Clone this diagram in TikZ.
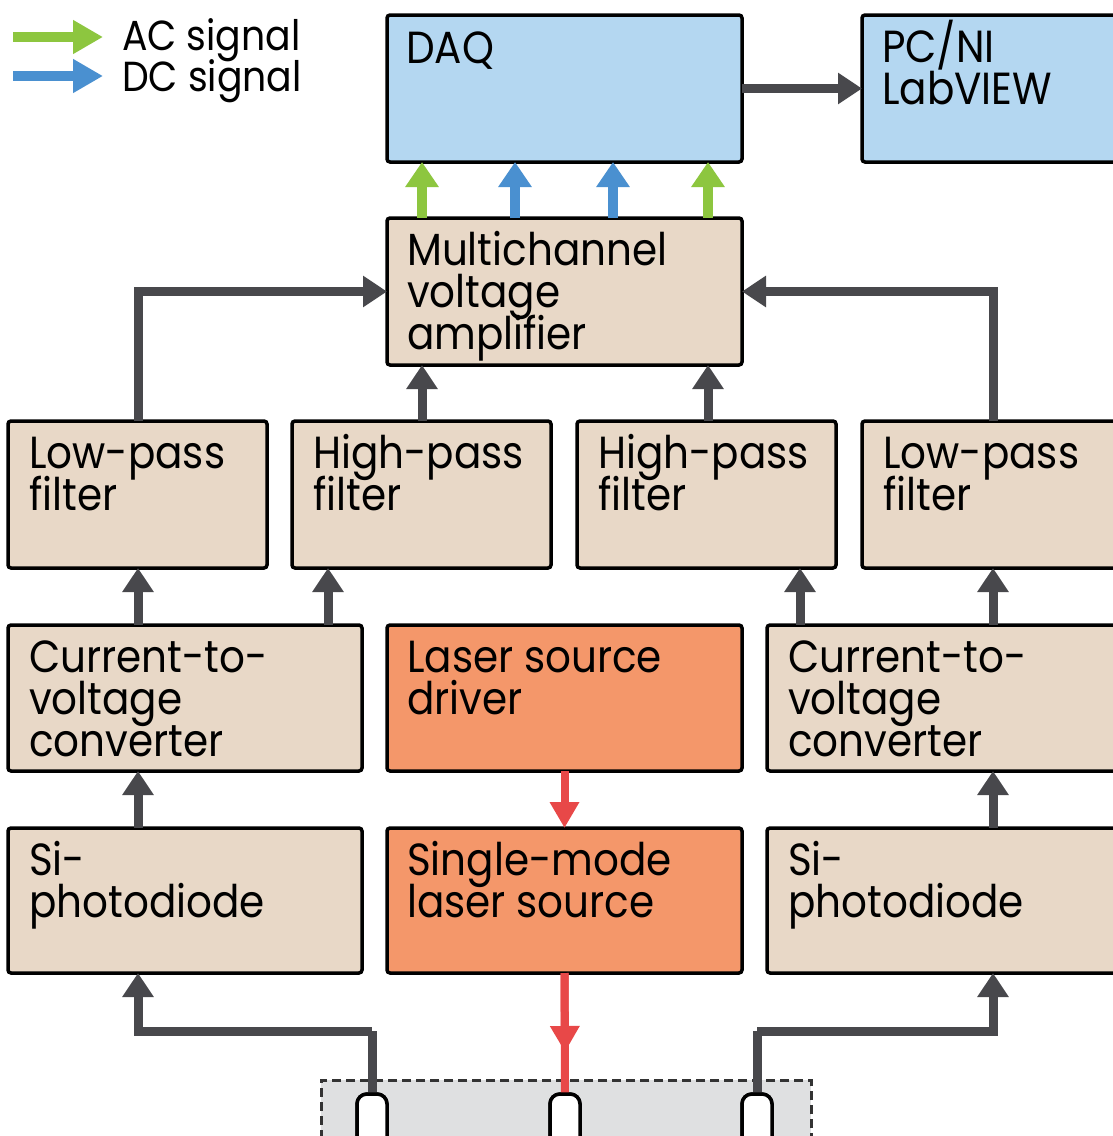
\documentclass[tikz,border=0pt]{standalone}
\usepackage{fontspec}
\setmainfont{Poppins}[FakeStretch=0.9]
\usetikzlibrary{arrows.meta}
\definecolor{beige}{RGB}{232,216,199}
\definecolor{lblue}{RGB}{180,215,241}
\definecolor{orng}{RGB}{244,151,106}
\definecolor{dgray}{RGB}{72,72,76}
\definecolor{agreen}{RGB}{141,198,63}
\definecolor{ablue}{RGB}{74,144,208}
\definecolor{ared}{RGB}{232,72,72}
\definecolor{boxgray}{RGB}{223,224,225}
\newcommand\one[1]{\vtop{\lineskiplimit=-200pt\hbox{#1}}}
\newcommand\two[2]{\vtop{\lineskiplimit=-200pt\hbox{#1}\hbox{#2}}}
\newcommand\three[3]{\vtop{\lineskiplimit=-200pt\hbox{#1}\hbox{#2}\hbox{#3}}}
\tikzset{
  blk/.style={draw=black, line width=3.5pt, rounded corners=3pt, anchor=north west,
    inner sep=0pt, outer sep=0pt},
  txt/.style={anchor=base west, inner sep=0pt, font=\fontsize{45}{42}\selectfont},
  legtxt/.style={anchor=base west, inner sep=0pt, font=\fontsize{42}{41}\selectfont},
  garrow/.style={draw=dgray, line width=9pt, -{Triangle[length=24pt,width=30pt]}},
  gline/.style={draw=dgray, line width=9pt},
  acarrow/.style={draw=agreen, line width=10pt, -{Triangle[length=25pt,width=32pt]}},
  dcarrow/.style={draw=ablue, line width=10pt, -{Triangle[length=25pt,width=32pt]}},
  rarrow/.style={draw=ared, line width=8pt, -{Triangle[length=26pt,width=28pt]}},
  rline/.style={draw=ared, line width=8pt},
  fconn/.style={draw=black, fill=white, line width=3.5pt, rounded corners=10pt,
    minimum width=30pt, minimum height=70pt, anchor=north, inner sep=0pt, outer sep=0pt},
}
\begin{document}
\begin{tikzpicture}[x=1pt,y=-1pt]
\clip (0,0) rectangle (1113,1136);
\fill[white] (0,0) rectangle (1113,1136);
% boxes
\node[blk, fill=lblue, minimum width=355pt, minimum height=147pt] (daq) at (387,15) {};
\node[blk, fill=lblue, minimum width=280pt, minimum height=147pt] (pc) at (862,15) {};
\node[blk, fill=beige, minimum width=355pt, minimum height=147pt] (mva) at (387,218) {};
\node[blk, fill=beige, minimum width=259pt, minimum height=147pt] (lp1) at (8,421) {};
\node[blk, fill=beige, minimum width=259pt, minimum height=147pt] (hp1) at (292,421) {};
\node[blk, fill=beige, minimum width=259pt, minimum height=147pt] (hp2) at (577,421) {};
\node[blk, fill=beige, minimum width=268pt, minimum height=147pt] (lp2) at (862,421) {};
\node[blk, fill=beige, minimum width=354pt, minimum height=146pt] (cvL) at (8,625) {};
\node[blk, fill=orng, minimum width=355pt, minimum height=146pt] (drv) at (387,625) {};
\node[blk, fill=beige, minimum width=363pt, minimum height=146pt] (cvR) at (767,625) {};
\node[blk, fill=beige, minimum width=354pt, minimum height=145pt] (pdL) at (8,828) {};
\node[blk, fill=orng, minimum width=355pt, minimum height=145pt] (slm) at (387,828) {};
\node[blk, fill=beige, minimum width=363pt, minimum height=145pt] (pdR) at (767,828) {};
% texts
\node[txt] (daqT) at ([xshift=19pt,yshift=-48pt]daq.north west) {\one{DAQ}};
\node[txt] (pcT) at ([xshift=20pt,yshift=-47pt]pc.north west) {\two{PC/NI}{LabVIEW}};
\node[txt] (mvaT) at ([xshift=20pt,yshift=-47pt]mva.north west) {\three{Multichannel}{voltage}{amplifier}};
\node[txt] (lp1T) at ([xshift=21pt,yshift=-47pt]lp1.north west) {\two{Low-pass}{filter}};
\node[txt] (hp1T) at ([xshift=21pt,yshift=-47pt]hp1.north west) {\two{High-pass}{filter}};
\node[txt] (hp2T) at ([xshift=21pt,yshift=-47pt]hp2.north west) {\two{High-pass}{filter}};
\node[txt] (lp2T) at ([xshift=21pt,yshift=-47pt]lp2.north west) {\two{Low-pass}{filter}};
\node[txt] (cvLT) at ([xshift=21pt,yshift=-47pt]cvL.north west) {\three{Current-to-}{voltage}{converter}};
\node[txt] (drvT) at ([xshift=20pt,yshift=-47pt]drv.north west) {\two{Laser source}{driver}};
\node[txt] (cvRT) at ([xshift=21pt,yshift=-47pt]cvR.north west) {\three{Current-to-}{voltage}{converter}};
\node[txt] (pdLT) at ([xshift=21pt,yshift=-47pt]pdL.north west) {\two{Si-}{photodiode}};
\node[txt] (slmT) at ([xshift=20pt,yshift=-47pt]slm.north west) {\two{Single-mode}{laser source}};
\node[txt] (pdRT) at ([xshift=21pt,yshift=-47pt]pdR.north west) {\two{Si-}{photodiode}};
% probe box and connectors
\node[draw=black!80, fill=boxgray, line width=2.5pt, dash pattern=on 9pt off 5pt,
  anchor=north west, minimum width=490pt, minimum height=90pt, inner sep=0pt] (probe) at (320,1079) {};
\node[fconn] (f1) at (372,1094) {};
\node[fconn] (f2) at (565,1094) {};
\node[fconn] (f3) at (757,1094) {};
% helper x coordinates
\coordinate (x138) at (138,0);
\coordinate (x328) at (328,0);
\coordinate (x800) at (800,0);
\coordinate (x993) at (993,0);
\coordinate (c1) at (422,0);
\coordinate (c2) at (515,0);
\coordinate (c3) at (613,0);
\coordinate (c4) at (708,0);
\coordinate (bL) at (372,1031);
\coordinate (bR) at (757,1031);
\coordinate (rmid) at (565,1052);
% arrows
\draw[garrow] (daq.east) -- (pc.west);
\draw[acarrow] (mva.north -| c1) -- (daq.south -| c1);
\draw[dcarrow] (mva.north -| c2) -- (daq.south -| c2);
\draw[dcarrow] (mva.north -| c3) -- (daq.south -| c3);
\draw[acarrow] (mva.north -| c4) -- (daq.south -| c4);
\draw[garrow] (lp1.north -| x138) |- (mva.west);
\draw[garrow] (lp2.north -| x993) |- (mva.east);
\draw[garrow] (hp1.north -| c1) -- (mva.south -| c1);
\draw[garrow] (hp2.north -| c4) -- (mva.south -| c4);
\draw[garrow] (cvL.north -| x138) -- (lp1.south -| x138);
\draw[garrow] (cvL.north -| x328) -- (hp1.south -| x328);
\draw[garrow] (cvR.north -| x800) -- (hp2.south -| x800);
\draw[garrow] (cvR.north -| x993) -- (lp2.south -| x993);
\draw[garrow] (pdL.north -| x138) -- (cvL.south -| x138);
\draw[garrow] (pdR.north -| x993) -- (cvR.south -| x993);
\draw[rarrow] (drv.south) -- (slm.north);
\draw[gline] (f1.north) -- (bL);
\draw[garrow] (bL) -| (pdL.south -| x138);
\draw[gline] (f3.north) -- (bR);
\draw[garrow] (bR) -| (pdR.south -| x993);
\draw[rline] (slm.south) -- (f2.north);
\draw[rarrow] (slm.south) -- (rmid);
% redraw connector tops over lines
\node[fconn] (f1b) at (372,1094) {};
\node[fconn] (f2b) at (565,1094) {};
\node[fconn] (f3b) at (757,1094) {};
% legend
\coordinate (lg1a) at (13,37);
\coordinate (lg1b) at (103,37);
\coordinate (lg2a) at (13,76);
\coordinate (lg2b) at (103,76);
\draw[acarrow, -{Triangle[length=30pt,width=32pt]}] (lg1a) -- (lg1b);
\draw[dcarrow, -{Triangle[length=30pt,width=32pt]}] (lg2a) -- (lg2b);
\node[legtxt] (legT) at (122,50) {\two{AC signal}{DC signal}};
\end{tikzpicture}
\end{document}
